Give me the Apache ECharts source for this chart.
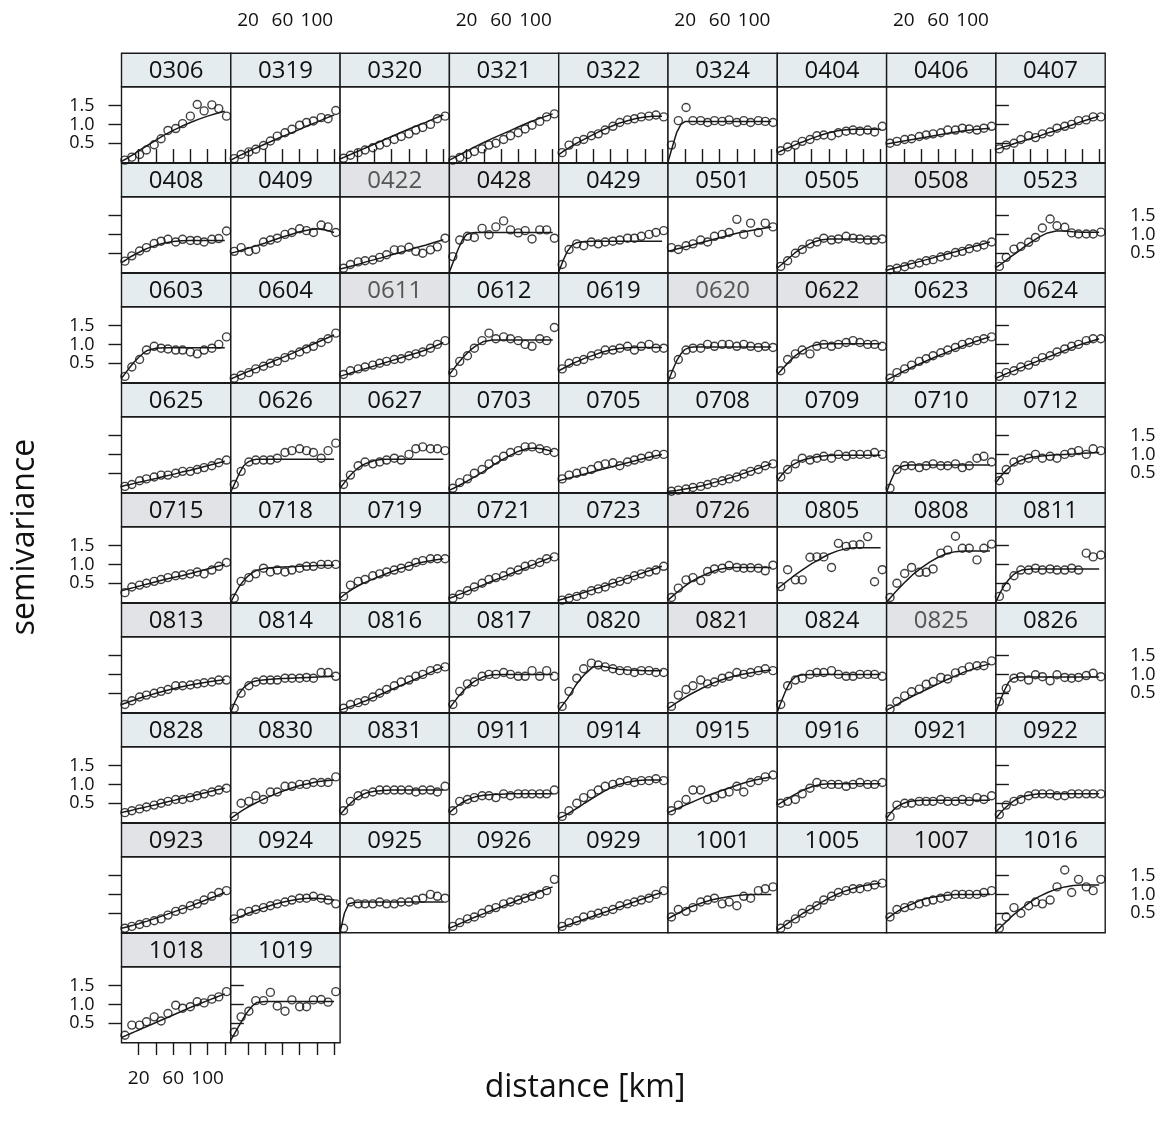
<!DOCTYPE html>
<html>
<head>
<meta charset="utf-8">
<script src="https://cdn.jsdelivr.net/npm/echarts@6/dist/echarts.min.js"></script>
<style>
  html, body { margin: 0; padding: 0; background: #fff; }
  #main { width: 1168px; height: 1135px; }
</style>
</head>
<body>
<div id="main"></div>
<script>
// panel names (stations / dates)
var stations = [
  "0306","0319","0320","0321","0322","0324","0404","0406","0407",
  "0408","0409","0422","0428","0429","0501","0505","0508","0523",
  "0603","0604","0611","0612","0619","0620","0622","0623","0624",
  "0625","0626","0627","0703","0705","0708","0709","0710","0712",
  "0715","0718","0719","0721","0723","0726","0805","0808","0811",
  "0813","0814","0816","0817","0820","0821","0824","0825","0826",
  "0828","0830","0831","0911","0914","0915","0916","0921","0922",
  "0923","0924","0925","0926","0929","1001","1005","1007","1016",
  "1018","1019"
];
// strips that look greyed in the picture
var greyStrips = ["0422","0428","0508","0611","0620","0622","0715","0726","0813","0821","0825","0923","1007","1018"];
var fadedText = ["0422","0611","0620","0825"];

// lag distances of the empirical points [km]
var distKm = [4,12,21,29,38,46,54,63,71,80,88,96,105,113,122];
// distances where the fitted model is drawn [km]
var modelKm = [0,5,10,15,20,25,30,40,50,60,70,80,90,100,110,120];

var xTicks = [20,40,60,80,100,120];
var xLabels = [20,60,100];
var yTicks = [0.5,1.0,1.5];

// empirical semivariance, one row per panel
var semiv = [
  [0.05,0.13,0.2,0.32,0.46,0.62,0.84,0.89,1.02,1.22,1.53,1.36,1.52,1.42,1.22],
  [0.09,0.2,0.27,0.34,0.44,0.56,0.69,0.78,0.87,0.98,1.05,1.09,1.18,1.15,1.37],
  [0.1,0.18,0.25,0.32,0.38,0.45,0.52,0.6,0.68,0.75,0.85,0.92,1.0,1.15,1.22],
  [0.05,0.12,0.2,0.28,0.35,0.45,0.5,0.6,0.7,0.78,0.88,0.98,1.08,1.2,1.28],
  [0.25,0.45,0.55,0.6,0.7,0.75,0.85,0.95,1.05,1.12,1.15,1.2,1.22,1.25,1.2],
  [0.45,1.1,1.45,1.1,1.1,1.05,1.1,1.08,1.12,1.05,1.1,1.05,1.1,1.08,1.05],
  [0.3,0.4,0.45,0.55,0.6,0.7,0.72,0.7,0.78,0.82,0.85,0.82,0.85,0.8,0.95],
  [0.5,0.55,0.6,0.62,0.68,0.72,0.75,0.78,0.85,0.85,0.9,0.88,0.85,0.9,0.95],
  [0.35,0.45,0.5,0.6,0.7,0.65,0.75,0.8,0.9,0.95,1.0,1.1,1.12,1.2,1.2],
  [0.29,0.43,0.56,0.65,0.76,0.82,0.87,0.8,0.87,0.84,0.84,0.8,0.87,0.89,1.09],
  [0.55,0.65,0.55,0.6,0.8,0.85,0.9,1.0,1.05,1.15,1.1,1.05,1.25,1.2,1.05],
  [0.1,0.2,0.27,0.3,0.32,0.39,0.46,0.59,0.59,0.66,0.55,0.5,0.59,0.67,0.9],
  [0.41,0.85,0.95,0.92,1.16,0.99,1.2,1.36,1.12,1.04,1.1,0.88,1.12,1.12,0.9],
  [0.2,0.6,0.75,0.7,0.8,0.75,0.8,0.82,0.85,0.9,0.9,0.95,1.0,1.05,1.1],
  [0.65,0.6,0.7,0.75,0.85,0.8,0.95,1.0,1.05,1.4,1.0,1.3,1.05,1.3,1.2],
  [0.15,0.3,0.5,0.6,0.75,0.8,0.9,0.85,0.88,0.95,0.9,0.88,0.85,0.85,0.88],
  [0.06,0.1,0.14,0.2,0.24,0.3,0.33,0.4,0.44,0.52,0.55,0.62,0.66,0.72,0.8],
  [0.15,0.39,0.61,0.68,0.79,0.92,1.17,1.41,1.23,1.19,1.04,1.01,1.01,1.01,1.06],
  [0.15,0.4,0.6,0.85,0.95,0.9,0.88,0.85,0.85,0.8,0.75,0.85,0.9,1.0,1.2],
  [0.1,0.18,0.25,0.35,0.42,0.5,0.55,0.65,0.72,0.8,0.88,0.95,1.05,1.15,1.3],
  [0.2,0.3,0.35,0.4,0.45,0.5,0.55,0.6,0.62,0.7,0.75,0.8,0.9,1.0,1.1],
  [0.25,0.55,0.7,0.9,1.1,1.3,1.15,1.2,1.15,1.1,1.0,0.95,1.15,1.1,1.45],
  [0.35,0.5,0.55,0.6,0.7,0.75,0.85,0.85,0.9,0.95,0.85,0.95,1.0,0.9,0.9],
  [0.2,0.6,0.85,0.9,0.9,1.0,0.95,1.0,1.0,0.95,1.0,0.95,0.92,0.95,0.92],
  [0.3,0.6,0.75,0.85,0.75,0.95,1.0,0.95,1.0,1.05,1.1,1.05,1.0,1.0,0.95],
  [0.1,0.25,0.35,0.45,0.55,0.62,0.7,0.78,0.85,0.92,1.0,1.05,1.1,1.15,1.2],
  [0.15,0.25,0.3,0.4,0.45,0.55,0.65,0.7,0.8,0.88,0.95,1.0,1.1,1.15,1.15],
  [0.15,0.2,0.3,0.35,0.4,0.45,0.45,0.5,0.55,0.55,0.6,0.65,0.7,0.78,0.85],
  [0.2,0.55,0.8,0.85,0.85,0.85,0.9,1.05,1.1,1.15,1.1,1.05,0.9,1.1,1.3],
  [0.2,0.45,0.7,0.8,0.75,0.8,0.85,0.9,0.85,1.0,1.15,1.2,1.15,1.15,1.1],
  [0.1,0.25,0.35,0.5,0.6,0.75,0.85,0.95,1.05,1.1,1.2,1.2,1.15,1.1,1.05],
  [0.35,0.45,0.5,0.55,0.6,0.7,0.75,0.78,0.7,0.8,0.85,0.9,0.95,1.0,1.0],
  [0.02,0.05,0.08,0.12,0.15,0.2,0.25,0.3,0.35,0.4,0.48,0.55,0.6,0.7,0.75],
  [0.4,0.6,0.75,0.9,0.85,0.9,0.95,0.9,1.0,0.95,1.0,1.0,1.0,1.05,1.0],
  [0.1,0.6,0.7,0.7,0.65,0.7,0.75,0.7,0.7,0.75,0.65,0.7,0.9,0.95,0.8],
  [0.3,0.6,0.8,0.85,0.9,1.0,0.9,0.95,0.9,1.0,1.05,1.1,1.0,1.15,1.1],
  [0.25,0.4,0.45,0.5,0.55,0.6,0.65,0.7,0.72,0.75,0.8,0.75,0.85,0.95,1.05],
  [0.1,0.55,0.65,0.75,0.9,0.8,0.85,0.8,0.85,0.9,0.95,0.95,1.0,1.0,1.0],
  [0.15,0.45,0.55,0.6,0.7,0.75,0.8,0.85,0.9,0.95,1.05,1.1,1.15,1.15,1.15],
  [0.1,0.2,0.3,0.4,0.5,0.6,0.65,0.7,0.8,0.85,0.95,1.0,1.05,1.15,1.2],
  [0.05,0.1,0.15,0.2,0.3,0.35,0.4,0.5,0.55,0.6,0.7,0.75,0.8,0.85,0.95],
  [0.12,0.37,0.59,0.65,0.57,0.81,0.88,0.9,0.97,0.92,0.9,0.91,0.9,0.83,0.98],
  [0.41,0.86,0.59,0.59,1.19,1.2,1.2,0.92,1.56,1.48,1.52,1.53,1.74,0.54,0.86],
  [0.12,0.5,0.76,0.92,0.79,0.79,0.88,1.3,1.38,1.75,1.43,1.43,1.12,1.43,1.54],
  [0.15,0.4,0.7,0.85,0.85,0.9,0.85,0.88,0.85,0.85,0.9,0.85,1.3,1.2,1.25],
  [0.2,0.3,0.4,0.45,0.5,0.55,0.6,0.7,0.7,0.72,0.75,0.78,0.8,0.85,0.85],
  [0.1,0.5,0.7,0.8,0.85,0.85,0.85,0.9,0.9,0.9,0.92,0.9,1.05,1.05,0.95],
  [0.1,0.2,0.25,0.3,0.4,0.5,0.6,0.7,0.8,0.85,0.95,1.0,1.1,1.15,1.2],
  [0.2,0.55,0.75,0.8,0.95,1.0,1.0,1.05,1.0,0.95,0.95,1.1,0.95,1.1,0.95],
  [0.15,0.55,0.9,1.15,1.3,1.25,1.2,1.15,1.1,1.1,1.05,1.1,1.1,1.05,1.05],
  [0.15,0.45,0.6,0.7,0.85,0.75,0.8,0.9,0.95,1.05,1.0,1.05,1.1,1.15,1.1],
  [0.2,0.7,0.85,0.9,1.0,1.05,1.05,1.1,1.0,0.95,0.95,1.0,1.0,1.0,0.95],
  [0.08,0.28,0.43,0.54,0.61,0.74,0.81,0.92,0.88,1.04,1.1,1.2,1.23,1.23,1.36],
  [0.28,0.63,0.9,0.94,0.85,0.99,0.94,0.83,0.99,0.92,0.9,0.92,0.97,1.03,0.94],
  [0.25,0.3,0.35,0.4,0.45,0.5,0.55,0.6,0.6,0.65,0.7,0.75,0.8,0.85,0.9],
  [0.15,0.5,0.55,0.7,0.6,0.8,0.8,0.95,0.95,1.0,1.0,1.05,1.05,1.05,1.2],
  [0.3,0.55,0.7,0.75,0.8,0.85,0.85,0.85,0.85,0.85,0.8,0.85,0.85,0.8,0.95],
  [0.3,0.55,0.6,0.65,0.7,0.7,0.65,0.75,0.7,0.75,0.75,0.75,0.75,0.75,0.85],
  [0.15,0.3,0.5,0.65,0.75,0.85,0.95,1.0,1.05,1.1,1.05,1.1,1.1,1.15,1.1],
  [0.3,0.45,0.6,0.85,0.85,0.6,0.65,0.75,0.8,0.95,0.8,1.05,1.1,1.2,1.25],
  [0.5,0.55,0.6,0.75,0.9,1.05,1.0,1.0,1.0,0.95,1.0,1.05,1.0,1.0,1.05],
  [0.15,0.45,0.5,0.5,0.55,0.55,0.55,0.6,0.55,0.55,0.6,0.55,0.65,0.6,0.7],
  [0.2,0.45,0.55,0.6,0.7,0.75,0.75,0.75,0.7,0.7,0.75,0.75,0.75,0.75,0.75],
  [0.1,0.15,0.2,0.25,0.3,0.35,0.45,0.55,0.6,0.7,0.75,0.85,0.95,1.05,1.1],
  [0.35,0.5,0.55,0.6,0.65,0.7,0.75,0.8,0.85,0.9,0.9,0.95,0.9,0.85,0.75],
  [0.1,0.8,0.75,0.75,0.75,0.8,0.75,0.75,0.8,0.8,0.85,0.9,1.0,0.95,0.9],
  [0.15,0.25,0.35,0.4,0.5,0.6,0.65,0.75,0.8,0.85,0.9,0.95,1.0,1.1,1.4],
  [0.15,0.25,0.3,0.4,0.45,0.5,0.55,0.6,0.7,0.75,0.8,0.85,0.9,1.0,1.1],
  [0.4,0.6,0.55,0.65,0.8,0.85,0.9,0.75,0.8,0.7,0.95,0.9,1.1,1.15,1.2],
  [0.1,0.2,0.35,0.5,0.6,0.7,0.85,0.95,1.05,1.1,1.15,1.15,1.2,1.25,1.3],
  [0.4,0.6,0.65,0.7,0.75,0.8,0.85,0.9,0.95,1.0,1.0,1.0,1.0,1.05,1.1],
  [0.1,0.4,0.65,0.5,0.7,0.8,0.75,0.85,1.2,1.65,1.05,1.4,1.2,1.1,1.4],
  [0.18,0.45,0.45,0.54,0.67,0.56,0.76,0.98,0.9,0.94,1.07,1.04,1.14,1.2,1.34],
  [0.26,0.67,0.82,1.1,1.1,1.32,0.96,0.82,1.12,0.94,0.94,1.12,1.13,1.06,1.34]
];

// fitted variogram model at modelKm
var model = [
  [0.02,0.08,0.15,0.22,0.3,0.37,0.44,0.58,0.72,0.84,0.95,1.05,1.14,1.22,1.29,1.35],
  [0.05,0.11,0.17,0.22,0.28,0.33,0.38,0.48,0.58,0.68,0.77,0.87,0.97,1.06,1.16,1.25],
  [0.08,0.13,0.18,0.23,0.28,0.33,0.38,0.48,0.58,0.68,0.78,0.88,0.97,1.06,1.16,1.25],
  [0.05,0.11,0.17,0.23,0.29,0.35,0.41,0.52,0.63,0.73,0.83,0.93,1.03,1.12,1.2,1.28],
  [0.2,0.28,0.35,0.42,0.49,0.55,0.61,0.73,0.84,0.94,1.03,1.1,1.16,1.2,1.22,1.22],
  [0,0.4,0.78,1.0,1.08,1.08,1.08,1.08,1.08,1.08,1.08,1.08,1.08,1.08,1.08,1.08],
  [0.25,0.3,0.35,0.4,0.45,0.5,0.54,0.63,0.71,0.78,0.83,0.86,0.87,0.87,0.87,0.87],
  [0.48,0.5,0.52,0.54,0.56,0.58,0.6,0.64,0.68,0.72,0.76,0.8,0.83,0.86,0.88,0.9],
  [0.33,0.37,0.41,0.44,0.48,0.52,0.55,0.62,0.69,0.77,0.84,0.92,1.0,1.08,1.15,1.22],
  [0.25,0.32,0.4,0.46,0.52,0.58,0.63,0.71,0.77,0.81,0.83,0.84,0.84,0.84,0.84,0.84],
  [0.5,0.53,0.56,0.6,0.63,0.67,0.7,0.77,0.85,0.93,1.0,1.07,1.12,1.15,1.12,1.05],
  [0.08,0.11,0.14,0.17,0.2,0.23,0.27,0.33,0.39,0.46,0.52,0.59,0.66,0.72,0.79,0.86],
  [0,0.3,0.6,0.85,1.0,1.04,1.05,1.05,1.05,1.05,1.05,1.05,1.05,1.05,1.05,1.05],
  [0,0.3,0.55,0.7,0.77,0.8,0.81,0.82,0.82,0.82,0.82,0.82,0.82,0.82,0.82,0.82],
  [0.55,0.58,0.61,0.64,0.67,0.7,0.73,0.79,0.85,0.91,0.97,1.03,1.08,1.12,1.16,1.2],
  [0.1,0.2,0.3,0.4,0.5,0.58,0.65,0.78,0.85,0.88,0.88,0.88,0.88,0.88,0.88,0.88],
  [0.05,0.08,0.11,0.14,0.17,0.2,0.23,0.29,0.35,0.42,0.48,0.54,0.61,0.67,0.73,0.8],
  [0.12,0.2,0.28,0.37,0.45,0.53,0.62,0.78,0.93,1.04,1.09,1.09,1.07,1.06,1.06,1.06],
  [0.1,0.25,0.4,0.54,0.66,0.76,0.84,0.9,0.91,0.91,0.91,0.91,0.91,0.91,0.91,0.91],
  [0.08,0.13,0.18,0.23,0.28,0.32,0.37,0.46,0.56,0.65,0.75,0.85,0.95,1.05,1.15,1.25],
  [0.15,0.19,0.22,0.26,0.29,0.33,0.36,0.43,0.5,0.57,0.64,0.71,0.78,0.86,0.95,1.05],
  [0.2,0.35,0.5,0.63,0.75,0.86,0.95,1.08,1.12,1.12,1.12,1.12,1.12,1.12,1.12,1.12],
  [0.3,0.36,0.42,0.48,0.53,0.58,0.63,0.71,0.79,0.85,0.89,0.91,0.92,0.92,0.92,0.92],
  [0,0.3,0.56,0.75,0.87,0.92,0.93,0.93,0.93,0.93,0.93,0.93,0.93,0.93,0.93,0.93],
  [0.2,0.33,0.45,0.57,0.68,0.77,0.85,0.96,1.01,1.02,1.02,1.02,1.02,1.02,1.02,1.02],
  [0.05,0.11,0.17,0.23,0.29,0.34,0.4,0.5,0.6,0.7,0.79,0.88,0.97,1.05,1.13,1.2],
  [0.1,0.15,0.2,0.25,0.29,0.34,0.39,0.48,0.57,0.66,0.75,0.84,0.93,1.01,1.08,1.15],
  [0.15,0.18,0.2,0.23,0.26,0.28,0.31,0.36,0.42,0.47,0.53,0.58,0.64,0.7,0.76,0.82],
  [0,0.25,0.5,0.7,0.8,0.85,0.87,0.87,0.87,0.87,0.87,0.87,0.87,0.87,0.87,0.87],
  [0.1,0.25,0.4,0.52,0.62,0.7,0.76,0.84,0.87,0.87,0.87,0.87,0.87,0.87,0.87,0.87],
  [0.05,0.1,0.16,0.22,0.28,0.35,0.41,0.55,0.7,0.84,0.97,1.08,1.15,1.17,1.14,1.08],
  [0.3,0.33,0.36,0.39,0.42,0.45,0.48,0.54,0.6,0.66,0.72,0.78,0.84,0.9,0.95,1.0],
  [0.02,0.03,0.04,0.06,0.08,0.1,0.12,0.17,0.23,0.29,0.36,0.43,0.51,0.59,0.67,0.75],
  [0.3,0.45,0.58,0.68,0.75,0.81,0.85,0.91,0.95,0.97,0.98,0.98,0.98,0.98,0.98,0.98],
  [0,0.3,0.55,0.66,0.7,0.72,0.72,0.72,0.72,0.72,0.72,0.72,0.72,0.72,0.72,0.72],
  [0.25,0.4,0.53,0.64,0.73,0.8,0.85,0.92,0.95,0.97,0.99,1.0,1.01,1.03,1.04,1.05],
  [0.3,0.33,0.36,0.39,0.42,0.45,0.48,0.54,0.6,0.65,0.7,0.76,0.82,0.88,0.94,1.0],
  [0,0.22,0.42,0.57,0.69,0.78,0.84,0.9,0.92,0.93,0.94,0.95,0.96,0.97,0.97,0.98],
  [0.1,0.2,0.28,0.35,0.42,0.48,0.53,0.63,0.72,0.81,0.89,0.96,1.03,1.08,1.12,1.15],
  [0.1,0.14,0.19,0.23,0.28,0.33,0.37,0.46,0.56,0.65,0.74,0.83,0.92,1.02,1.11,1.2],
  [0.05,0.08,0.12,0.15,0.19,0.22,0.26,0.33,0.4,0.48,0.55,0.63,0.71,0.79,0.87,0.95],
  [0.05,0.15,0.25,0.34,0.43,0.51,0.58,0.7,0.8,0.87,0.91,0.92,0.92,0.92,0.92,0.92],
  [0.35,0.44,0.53,0.62,0.71,0.79,0.87,1.02,1.15,1.27,1.36,1.42,1.44,1.44,1.44,1.44],
  [0,0.13,0.26,0.38,0.5,0.61,0.72,0.9,1.06,1.19,1.29,1.34,1.36,1.36,1.36,1.36],
  [0,0.25,0.45,0.6,0.72,0.8,0.85,0.88,0.88,0.88,0.88,0.88,0.88,0.88,0.88,0.88],
  [0.2,0.24,0.28,0.32,0.36,0.4,0.43,0.5,0.56,0.62,0.67,0.72,0.76,0.8,0.83,0.86],
  [0,0.28,0.5,0.65,0.74,0.8,0.83,0.86,0.88,0.89,0.9,0.91,0.92,0.93,0.94,0.95],
  [0.05,0.09,0.13,0.17,0.21,0.26,0.3,0.4,0.5,0.6,0.7,0.8,0.9,1.0,1.1,1.2],
  [0.1,0.25,0.4,0.53,0.65,0.75,0.83,0.94,0.99,1.0,1.0,1.0,1.0,1.0,1.0,1.0],
  [0.05,0.2,0.35,0.53,0.72,0.87,1.0,1.2,1.22,1.18,1.14,1.12,1.11,1.1,1.1,1.1],
  [0.1,0.17,0.25,0.32,0.39,0.46,0.52,0.64,0.75,0.84,0.91,0.97,1.02,1.06,1.09,1.12],
  [0,0.3,0.58,0.8,0.92,0.97,0.99,1.0,1.0,1.0,1.0,1.0,1.0,1.0,1.0,1.0],
  [0.05,0.11,0.17,0.24,0.3,0.36,0.42,0.53,0.64,0.75,0.86,0.96,1.06,1.14,1.22,1.28],
  [0,0.3,0.58,0.8,0.9,0.93,0.93,0.93,0.93,0.93,0.93,0.93,0.93,0.93,0.93,0.93],
  [0.25,0.28,0.3,0.33,0.36,0.38,0.41,0.46,0.52,0.57,0.63,0.68,0.74,0.79,0.85,0.9],
  [0.1,0.18,0.26,0.33,0.4,0.46,0.52,0.63,0.73,0.82,0.9,0.97,1.02,1.07,1.1,1.12],
  [0.2,0.33,0.45,0.56,0.65,0.72,0.77,0.82,0.84,0.85,0.85,0.85,0.85,0.85,0.85,0.85],
  [0.25,0.35,0.44,0.52,0.58,0.63,0.67,0.71,0.73,0.74,0.75,0.75,0.75,0.75,0.75,0.75],
  [0.1,0.15,0.21,0.28,0.35,0.42,0.5,0.64,0.78,0.91,1.0,1.06,1.1,1.12,1.12,1.12],
  [0.25,0.3,0.35,0.4,0.45,0.5,0.55,0.65,0.74,0.82,0.9,0.98,1.05,1.11,1.16,1.2],
  [0.45,0.52,0.59,0.66,0.73,0.79,0.85,0.94,1.0,1.02,1.02,1.02,1.02,1.02,1.02,1.02],
  [0.1,0.25,0.37,0.45,0.5,0.54,0.56,0.58,0.58,0.58,0.58,0.58,0.58,0.58,0.58,0.58],
  [0.1,0.24,0.36,0.46,0.55,0.62,0.67,0.72,0.75,0.75,0.75,0.75,0.75,0.75,0.75,0.75],
  [0.1,0.13,0.16,0.19,0.22,0.26,0.29,0.37,0.45,0.53,0.61,0.69,0.78,0.87,0.96,1.05],
  [0.3,0.35,0.4,0.45,0.5,0.54,0.58,0.66,0.73,0.79,0.84,0.88,0.9,0.9,0.88,0.85],
  [0,0.5,0.75,0.78,0.79,0.8,0.8,0.8,0.8,0.8,0.8,0.8,0.8,0.8,0.8,0.8],
  [0.1,0.15,0.2,0.25,0.3,0.35,0.4,0.49,0.58,0.67,0.76,0.85,0.94,1.03,1.12,1.2],
  [0.1,0.14,0.18,0.22,0.26,0.3,0.34,0.42,0.5,0.58,0.66,0.74,0.82,0.9,0.98,1.05],
  [0.35,0.42,0.48,0.54,0.6,0.66,0.7,0.78,0.85,0.9,0.94,0.97,0.99,1.0,1.0,1.0],
  [0.05,0.12,0.2,0.28,0.35,0.42,0.5,0.63,0.77,0.9,1.01,1.1,1.17,1.23,1.27,1.3],
  [0.35,0.43,0.51,0.58,0.65,0.7,0.75,0.85,0.91,0.95,0.98,1.0,1.0,1.0,1.0,1.0],
  [0,0.12,0.23,0.34,0.45,0.54,0.63,0.8,0.94,1.05,1.14,1.2,1.24,1.25,1.25,1.25],
  [0.12,0.17,0.22,0.27,0.32,0.37,0.42,0.52,0.62,0.72,0.82,0.92,1.01,1.1,1.19,1.28],
  [0.05,0.25,0.45,0.65,0.82,0.96,1.05,1.08,1.08,1.08,1.08,1.08,1.08,1.08,1.08,1.08]
];

// layout of the lattice
var NCOL = 9;
var LEFT = 121.5, TOP = 86.8;
var PW = 109.3, PH = 76, ROWH = 110, STRIP = 33.5;
var INK = '#1a1a1a';
var FONT = '"Open Sans", "DejaVu Sans", sans-serif';

function pairs(xs, ys) {
  var out = [];
  for (var k = 0; k < ys.length; k++) out.push([xs[k], ys[k]]);
  return out;
}

function buildOption() {
  var nPanel = stations.length;
  var lastRow = Math.floor((nPanel - 1) / NCOL);
  var grids = [], xAxes = [], yAxes = [], series = [], graphics = [];

  for (var i = 0; i < nPanel; i++) {
    var r = Math.floor(i / NCOL), c = i % NCOL;
    var panelLeft = LEFT + c * PW;
    var panelTop = TOP + r * ROWH;
    var lastInRow = (c == NCOL - 1) || (i == nPanel - 1);

    grids.push({
      left: panelLeft, top: panelTop, width: PW, height: PH,
      show: true, borderColor: INK, borderWidth: 1.4, backgroundColor: '#fff'
    });

    // top axis on first row (above the strip), bottom axis on last row
    var xLab = (r == 0 && c % 2 == 1) || (r == lastRow && c % 2 == 0);
    xAxes.push({
      gridIndex: i, type: 'value', min: 0, max: 127,
      show: (r == 0) || (r == lastRow),
      position: r == 0 ? 'top' : 'bottom',
      offset: r == 0 ? STRIP : 0,
      axisLine: { show: false },
      splitLine: { show: false },
      axisTick: { show: true, length: 13, customValues: xTicks, lineStyle: { color: INK, width: 1.4 } },
      axisLabel: { show: xLab, customValues: xLabels, margin: r == 0 ? 23 : 26, color: '#111', fontSize: 19, fontFamily: FONT }
    });

    // left axis on first column, right axis at the end of each row
    var yLeft = (c == 0);
    var yLab = yLeft ? (r % 2 == 0) : (r % 2 == 1);
    yAxes.push({
      gridIndex: i, type: 'value', min: -0.02, max: 2.0,
      show: yLeft || lastInRow,
      position: yLeft ? 'left' : 'right',
      axisLine: { show: false },
      splitLine: { show: false },
      axisTick: { show: true, length: 13, customValues: yTicks, lineStyle: { color: INK, width: 1.4 } },
      axisLabel: {
        show: yLab, customValues: yTicks, margin: yLeft ? 27 : 25, color: '#111', fontSize: 18, fontFamily: FONT,
        formatter: function (v) { return v.toFixed(1); }
      }
    });

    series.push({
      type: 'line', xAxisIndex: i, yAxisIndex: i,
      data: pairs(modelKm, model[i]),
      showSymbol: false, silent: true, clip: true,
      lineStyle: { color: INK, width: 1.5 }
    });
    series.push({
      type: 'scatter', xAxisIndex: i, yAxisIndex: i,
      data: pairs(distKm, semiv[i]),
      symbolSize: 8, silent: true,
      itemStyle: { color: 'rgba(255,255,255,0)', borderColor: '#111', borderWidth: 1.4 }
    });

    // strip with the panel name
    var grey = greyStrips.indexOf(stations[i]) >= 0;
    var faded = fadedText.indexOf(stations[i]) >= 0;
    graphics.push({
      type: 'rect', silent: true,
      shape: { x: panelLeft, y: panelTop - STRIP, width: PW, height: STRIP },
      style: { fill: grey ? '#e1e3e7' : '#e4ecf0', stroke: INK, lineWidth: 1.4 }
    });
    graphics.push({
      type: 'text', silent: true,
      style: {
        text: stations[i], x: panelLeft + PW / 2, y: panelTop - STRIP / 2 + 1,
        textAlign: 'center', textVerticalAlign: 'middle',
        font: '24px ' + FONT, fill: faded ? '#555' : '#111'
      }
    });
  }

  // axis titles
  graphics.push({
    type: 'text', silent: true,
    style: { text: 'distance [km]', x: 585, y: 1088, textAlign: 'center', textVerticalAlign: 'middle', font: '32px ' + FONT, fill: '#111' }
  });
  graphics.push({
    type: 'text', silent: true, x: 25, y: 537, rotation: Math.PI / 2,
    style: { text: 'semivariance', x: 0, y: 0, textAlign: 'center', textVerticalAlign: 'middle', font: '32px ' + FONT, fill: '#111' }
  });

  return {
    animation: false,
    backgroundColor: '#fff',
    grid: grids,
    xAxis: xAxes,
    yAxis: yAxes,
    series: series,
    graphic: graphics
  };
}

var chart = echarts.init(document.getElementById('main'));
chart.setOption(buildOption());
</script>
</body>
</html>
